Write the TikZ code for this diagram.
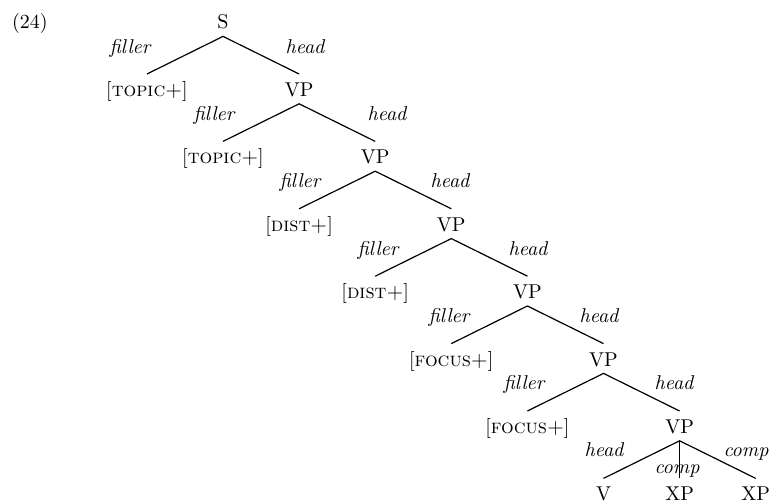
\documentclass[tikz,border=0pt]{standalone}
\begin{document}
\begin{tikzpicture}[x=0.5pt,y=-0.5pt,
  cat/.style={anchor=base, inner sep=0pt, text height=11pt, text depth=3.5pt},
  lbl/.style={anchor=base, inner sep=0pt, font=\itshape},
  branch/.style={line width=0.6pt}]
\useasboundingbox (0,0) rectangle (771,502);

% example number
\node[anchor=base, inner sep=0pt] (num) at (30,29) {(24)};

% category nodes, one row per level
\node[cat] (s)  at (223,29)      {S};
\node[cat] (t1) at (147,96.4)    {[\textsc{topic+}]};
\node[cat] (v1) at (299.1,96.4)  {VP};
\node[cat] (t2) at (223,163.8)   {[\textsc{topic+}]};
\node[cat] (v2) at (375.2,163.8) {VP};
\node[cat] (d1) at (299.1,231.2) {[\textsc{dist+}]};
\node[cat] (v3) at (451.3,231.2) {VP};
\node[cat] (d2) at (375.2,298.6) {[\textsc{dist+}]};
\node[cat] (v4) at (527.4,298.6) {VP};
\node[cat] (f1) at (451.3,366)   {[\textsc{focus+}]};
\node[cat] (v5) at (603.5,366)   {VP};
\node[cat] (f2) at (527.4,433.4) {[\textsc{focus+}]};
\node[cat] (v6) at (679.6,433.4) {VP};
\node[cat] (vv) at (603.5,500.8) {V};
\node[cat] (x1) at (679.6,500.8) {XP};
\node[cat] (x2) at (755.7,500.8) {XP};

% branches
\draw[branch] (t1.north) -- (s.south) -- (v1.north);
\draw[branch] (t2.north) -- (v1.south) -- (v2.north);
\draw[branch] (d1.north) -- (v2.south) -- (v3.north);
\draw[branch] (d2.north) -- (v3.south) -- (v4.north);
\draw[branch] (f1.north) -- (v4.south) -- (v5.north);
\draw[branch] (f2.north) -- (v5.south) -- (v6.north);
\draw[branch] (vv.north) -- (v6.south) -- (x2.north);
\draw[branch] (v6.south) -- (x1.north);

% branch labels
\node[lbl] (l1a) at (130,53.5)   {filler};
\node[lbl] (l1b) at (305,53.5)   {head};
\node[lbl] (l2a) at (214,120.7)  {filler};
\node[lbl] (l2b) at (387,120.7)  {head};
\node[lbl] (l3a) at (300,187.9)  {filler};
\node[lbl] (l3b) at (450,187.9)  {head};
\node[lbl] (l4a) at (378,255.1)  {filler};
\node[lbl] (l4b) at (528,255.1)  {head};
\node[lbl] (l5a) at (449,322.3)  {filler};
\node[lbl] (l5b) at (599,322.3)  {head};
\node[lbl] (l6a) at (524,389.5)  {filler};
\node[lbl] (l6b) at (674,389.5)  {head};
\node[lbl] (l7a) at (604,456.7)  {head};
\node[lbl] (l7b) at (677,473.5)  {comp};
\node[lbl] (l7c) at (746,456.7)  {comp};
\end{tikzpicture}
\end{document}
